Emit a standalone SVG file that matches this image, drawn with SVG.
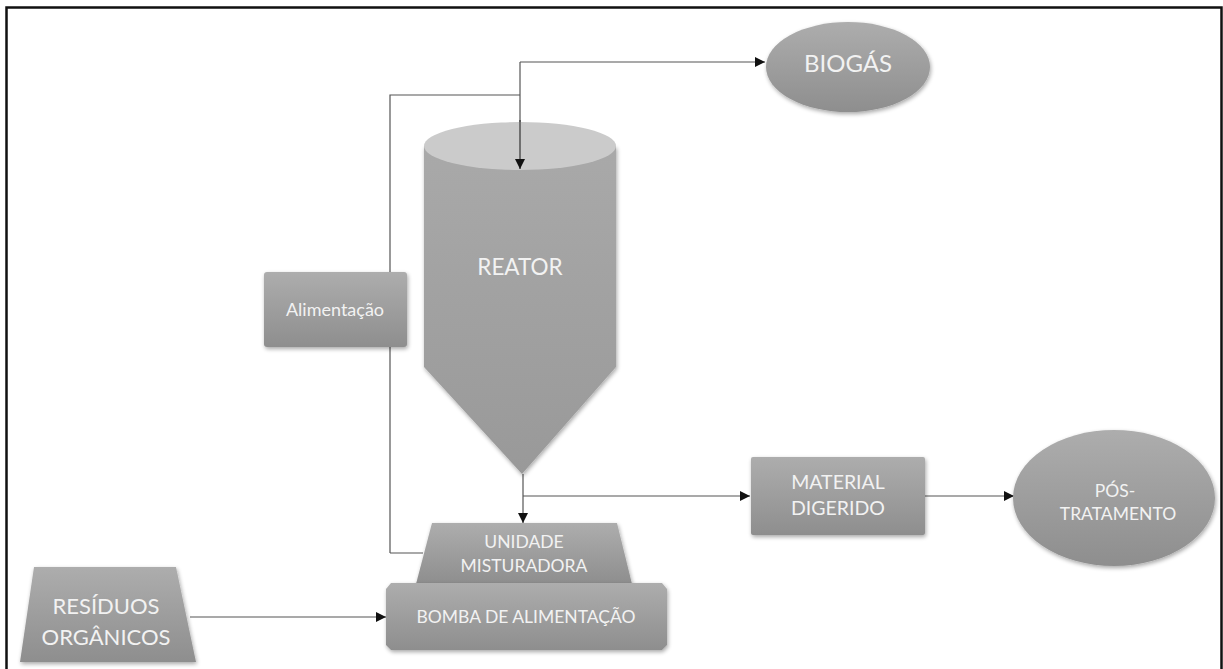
<svg xmlns="http://www.w3.org/2000/svg" width="1223" height="669" viewBox="0 0 1223 669">
<defs>
<linearGradient id="g" x1="0" y1="0" x2="0" y2="1">
<stop offset="0" stop-color="#adadad"/>
<stop offset="1" stop-color="#8e8e8e"/>
</linearGradient>
<linearGradient id="gc" x1="0" y1="0" x2="0" y2="1">
<stop offset="0" stop-color="#a9a9a9"/>
<stop offset="1" stop-color="#999"/>
</linearGradient>
<filter id="sh" x="-10%" y="-10%" width="130%" height="130%">
<feGaussianBlur in="SourceAlpha" stdDeviation="2"/>
<feOffset dx="1" dy="2"/>
<feComponentTransfer><feFuncA type="linear" slope="0.35"/></feComponentTransfer>
<feMerge><feMergeNode/><feMergeNode in="SourceGraphic"/></feMerge>
</filter>
<marker id="ah" viewBox="0 0 10 10" refX="10" refY="5" markerWidth="10" markerHeight="10" markerUnits="userSpaceOnUse" orient="auto">
<path d="M0,0 L10,5 L0,10 z" fill="#111"/>
</marker>
</defs>
<style>
.s{fill:url(#g);filter:url(#sh)}
.t{font-family:Lato,"Open Sans","Liberation Sans",sans-serif;fill:#f2f2f2;text-anchor:middle}
.c{fill:none;stroke:#555;stroke-width:1.2}
.a{marker-end:url(#ah)}
</style>
<rect x="0" y="0" width="1223" height="669" fill="#fff"/>
<path d="M6.5,669 V7.5 H1221.5 V669" fill="none" stroke="#111" stroke-width="2.5"/>

<g id="connectors">
<path class="c" d="M390,553 H423"/>
<path class="c" d="M390,553 V95 H520"/>
<path class="c a" d="M520,62 V169"/>
<path class="c a" d="M520,62 H765"/>
<path class="c a" d="M523,474 V523"/>
<path class="c a" d="M523,496 H750"/>
<path class="c a" d="M925,496 H1014"/>
<path class="c a" d="M190,617 H386"/>
</g>

<g id="biogas">
<ellipse class="s" cx="848" cy="67" rx="82" ry="45"/>
<text class="t" x="848" y="72" font-size="24">BIOGÁS</text>
</g>

<g id="reator">
<path class="s" d="M424,146 V367 L522,474 L616,367 V146 Z" style="fill:url(#gc)"/>
<ellipse cx="520" cy="146" rx="96" ry="24" fill="#cbcbcb"/>
<path class="c a" d="M520,120 V169" style="stroke:#333"/>
<text class="t" x="520" y="275" font-size="22.5">REATOR</text>
</g>

<g id="alimentacao">
<rect class="s" x="264" y="272" width="143" height="75" rx="3"/>
<text class="t" x="335" y="316" font-size="18">Alimentação</text>
</g>

<g id="unidade">
<path class="s" d="M432,523 H617 L632,584 H416 Z"/>
<text class="t" x="524" y="548" font-size="17.5">UNIDADE</text>
<text class="t" x="524" y="572" font-size="17.5">MISTURADORA</text>
</g>

<g id="bomba">
<path class="s" d="M391,583 H662 L667,589 V645 L662,650 H391 L386,645 V589 Z"/>
<text class="t" x="526" y="623" font-size="17.5">BOMBA DE ALIMENTAÇÃO</text>
</g>

<g id="residuos">
<path class="s" d="M34,567 H176 L196,662 H20 Z"/>
<text class="t" x="106" y="614" font-size="22">RESÍDUOS</text>
<text class="t" x="106" y="645" font-size="22">ORGÂNICOS</text>
</g>

<g id="material">
<rect class="s" x="751" y="457" width="174" height="78" rx="2"/>
<text class="t" x="838" y="489" font-size="19.5">MATERIAL</text>
<text class="t" x="838" y="515" font-size="19.5">DIGERIDO</text>
</g>

<g id="pos">
<ellipse class="s" cx="1114" cy="498" rx="101" ry="68"/>
<text class="t" x="1115" y="497" font-size="17.5">PÓS-</text>
<text class="t" x="1118" y="520" font-size="17.5">TRATAMENTO</text>
</g>
</svg>
